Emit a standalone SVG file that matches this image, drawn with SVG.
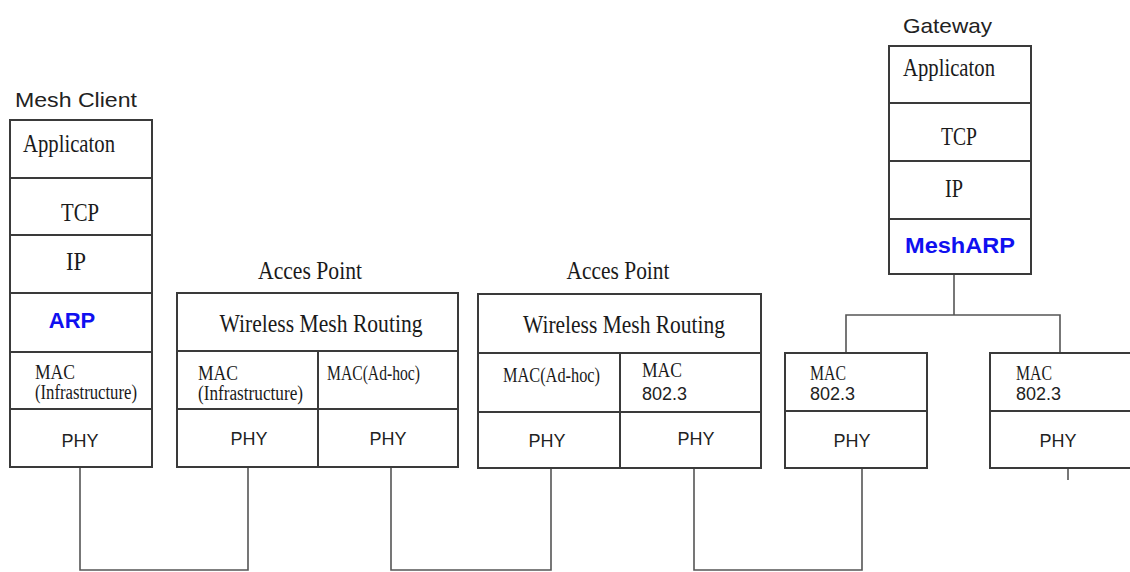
<svg xmlns="http://www.w3.org/2000/svg" width="1130" height="572" viewBox="0 0 1130 572">
<style>
.box{fill:#fff;stroke:#3a3a3a;stroke-width:2}
.div{stroke:#3a3a3a;stroke-width:2;fill:none}
.con{stroke:#555;stroke-width:1.6;fill:none}
.sans{font-family:"Liberation Sans",Arial,sans-serif;fill:#222}
.title{font-size:21px}
.phy{font-size:18px;text-anchor:middle}
.num{font-size:18px}
.serif{font-family:"Liberation Serif","Times New Roman",serif;fill:#1a1a1a}
.big{font-size:26px}
.small{font-size:20px}
.mid{text-anchor:middle}
.blue{font-family:"Liberation Sans",Arial,sans-serif;font-weight:bold;font-size:22px;fill:#1010f0;text-anchor:middle}
</style>
<rect width="1130" height="572" fill="#fff"/>

<g id="connectors">
<polyline class="con" points="80,467 80,570 248,570 248,467"/>
<polyline class="con" points="391,467 391,570 551,570 551,468"/>
<polyline class="con" points="694,468 694,570 862,570 862,468"/>
<polyline class="con" points="954,274 954,315"/>
<polyline class="con" points="846,353 846,315 1060,315 1060,353"/>
<line class="con" x1="1068" y1="468" x2="1068" y2="480"/>
</g>

<g id="mesh-client">
<text class="sans title" x="15" y="107" textLength="122" lengthAdjust="spacingAndGlyphs">Mesh Client</text>
<rect class="box" x="10" y="120" width="142" height="347"/>
<path class="div" d="M10 178H152M10 235H152M10 293H152M10 352H152M10 409H152"/>
<text class="serif big" x="23" y="152" textLength="92" lengthAdjust="spacingAndGlyphs">Applicaton</text>
<text class="serif big mid" x="80" y="221" textLength="38" lengthAdjust="spacingAndGlyphs">TCP</text>
<text class="serif big mid" x="76" y="270" textLength="20" lengthAdjust="spacingAndGlyphs">IP</text>
<text class="blue" x="72" y="328">ARP</text>
<text class="serif small" x="35" y="379" textLength="40" lengthAdjust="spacingAndGlyphs">MAC</text>
<text class="serif small" x="35" y="399" textLength="102" lengthAdjust="spacingAndGlyphs">(Infrastructure)</text>
<text class="sans phy" x="80" y="447">PHY</text>
</g>

<g id="access-point-1">
<text class="serif big mid" x="310" y="279" textLength="104" lengthAdjust="spacingAndGlyphs">Acces Point</text>
<rect class="box" x="177" y="293" width="281" height="174"/>
<path class="div" d="M177 351H458M177 409H458M318 351V467"/>
<text class="serif big mid" x="321" y="332" textLength="203" lengthAdjust="spacingAndGlyphs">Wireless Mesh Routing</text>
<text class="serif small" x="198" y="380" textLength="40" lengthAdjust="spacingAndGlyphs">MAC</text>
<text class="serif small" x="198" y="400" textLength="105" lengthAdjust="spacingAndGlyphs">(Infrastructure)</text>
<text class="serif small" x="327" y="380" textLength="93" lengthAdjust="spacingAndGlyphs">MAC(Ad-hoc)</text>
<text class="sans phy" x="249" y="445">PHY</text>
<text class="sans phy" x="388" y="445">PHY</text>
</g>

<g id="access-point-2">
<text class="serif big mid" x="618" y="279" textLength="103" lengthAdjust="spacingAndGlyphs">Acces Point</text>
<rect class="box" x="478" y="294" width="283" height="174"/>
<path class="div" d="M478 353H761M478 412H761M620 353V468"/>
<text class="serif big mid" x="624" y="333" textLength="202" lengthAdjust="spacingAndGlyphs">Wireless Mesh Routing</text>
<text class="serif small" x="503" y="382" textLength="97" lengthAdjust="spacingAndGlyphs">MAC(Ad-hoc)</text>
<text class="serif small" x="642" y="377" textLength="40" lengthAdjust="spacingAndGlyphs">MAC</text>
<text class="sans num" x="642" y="400">802.3</text>
<text class="sans phy" x="547" y="447">PHY</text>
<text class="sans phy" x="696" y="445">PHY</text>
</g>

<g id="gateway">
<text class="sans title" x="903" y="33" textLength="89" lengthAdjust="spacingAndGlyphs">Gateway</text>
<rect class="box" x="889" y="46" width="142" height="228"/>
<path class="div" d="M889 103H1031M889 161H1031M889 219H1031"/>
<text class="serif big" x="903" y="76" textLength="92" lengthAdjust="spacingAndGlyphs">Applicaton</text>
<text class="serif big mid" x="959" y="145" textLength="36" lengthAdjust="spacingAndGlyphs">TCP</text>
<text class="serif big mid" x="954" y="197" textLength="18" lengthAdjust="spacingAndGlyphs">IP</text>
<text class="blue" x="960" y="253" textLength="110" lengthAdjust="spacingAndGlyphs">MeshARP</text>
</g>

<g id="gateway-port-1">
<rect class="box" x="785" y="353" width="142" height="115"/>
<path class="div" d="M785 411H927"/>
<text class="serif small" x="810" y="380" textLength="36" lengthAdjust="spacingAndGlyphs">MAC</text>
<text class="sans num" x="810" y="400">802.3</text>
<text class="sans phy" x="852" y="447">PHY</text>
</g>

<g id="gateway-port-2">
<rect class="box" x="990" y="353" width="160" height="115"/>
<path class="div" d="M990 411H1130"/>
<text class="serif small" x="1016" y="380" textLength="36" lengthAdjust="spacingAndGlyphs">MAC</text>
<text class="sans num" x="1016" y="400">802.3</text>
<text class="sans phy" x="1058" y="447">PHY</text>
</g>
</svg>
